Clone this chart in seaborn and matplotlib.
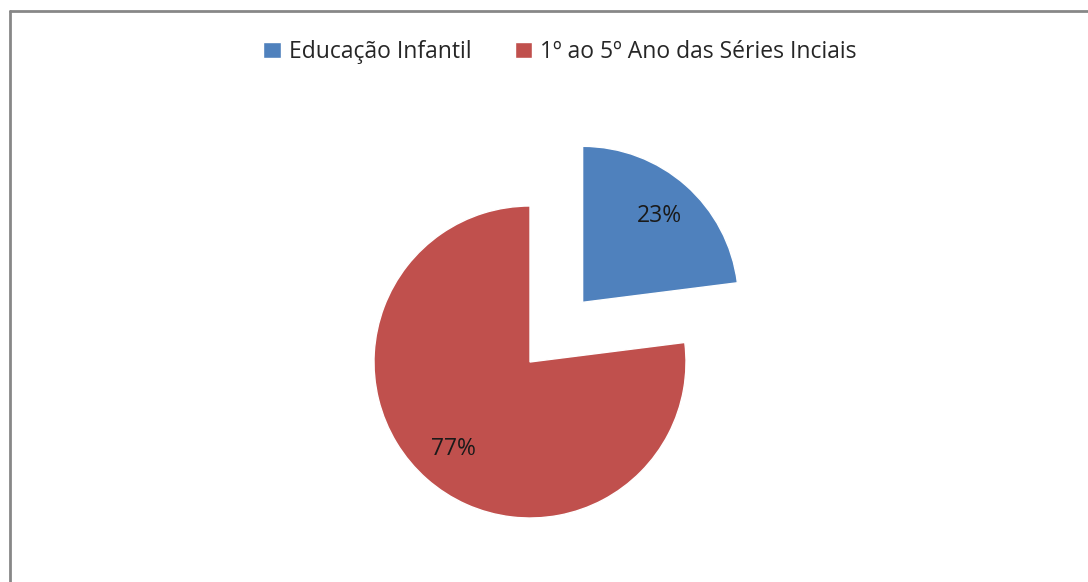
import matplotlib
matplotlib.use("Agg")
import matplotlib.pyplot as plt
import seaborn as sns
from matplotlib.lines import Line2D

# ============================================
# DATA
# ============================================

categories = ["Educação Infantil", "1º ao 5º Ano das Séries Inciais"]
values = [23, 77]
explode = [0.51, 0.0]
colors = ["#4F81BD", "#C0504D"]

# ============================================
# STYLE
# ============================================

sns.set_theme(style="white")
plt.rcParams['font.family'] = ['Open Sans', 'DejaVu Sans']

W, H = 1088, 582
fig = plt.figure(figsize=(W / 100, H / 100), dpi=100)

# pie center in pixels and radius
cx, cy, r = 530, H - 362, 156
aw, ah = 760, 460
ax = fig.add_axes([(cx - aw / 2) / W, (cy - ah / 2) / H, aw / W, ah / H])

wedges, texts, autotexts = ax.pie(
    values,
    explode=explode,
    colors=colors,
    startangle=90,
    counterclock=False,
    autopct='%.0f%%',
    pctdistance=0.74,
    textprops={'fontsize': 16.5, 'color': '#1a1a1a'},
)
for w in wedges:
    w.set_clip_on(False)

ax.set_xlim(-aw / (2 * r), aw / (2 * r))
ax.set_ylim(-ah / (2 * r), ah / (2 * r))
ax.set_aspect('equal')
ax.axis('off')

# legend on top
fig.legend(wedges, categories, loc='center', bbox_to_anchor=(560 / W, 1 - 52 / H),
           ncol=2, frameon=False, fontsize=16.5, handlelength=0.75, handleheight=0.75,
           handletextpad=0.35, columnspacing=1.9)

# chart area border (left and top)
bx, by = 10 / W, 1 - 11 / H
fig.add_artist(Line2D([bx, bx], [0, by], transform=fig.transFigure, color='#878787', lw=2))
fig.add_artist(Line2D([bx, 1], [by, by], transform=fig.transFigure, color='#878787', lw=2))

fig.savefig("out.png", dpi=100, facecolor='white')
